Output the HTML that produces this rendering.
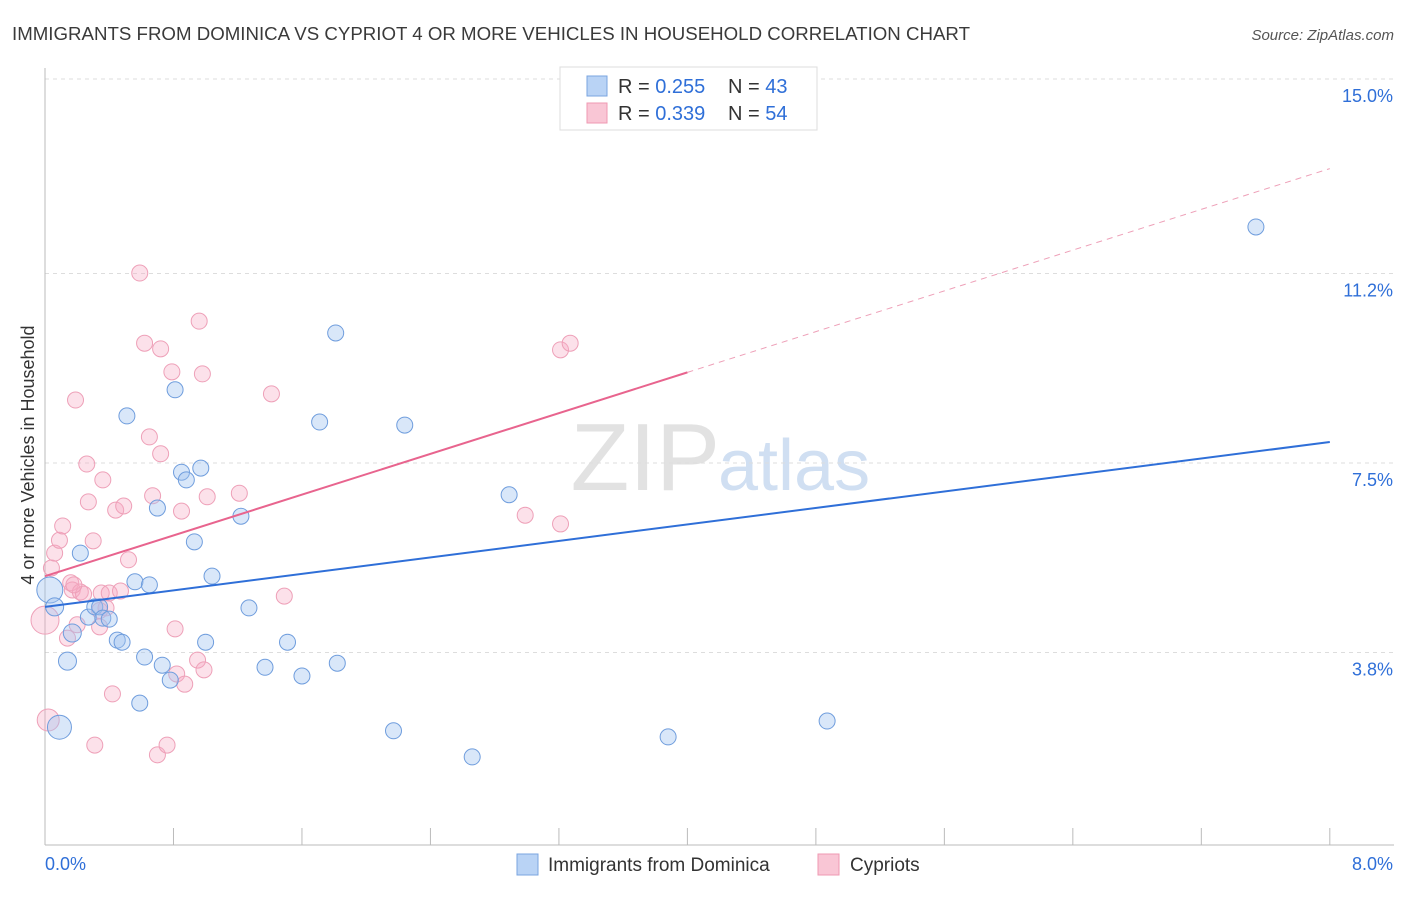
<!DOCTYPE html>
<html><head><meta charset="utf-8"><style>
body{margin:0;background:#fff;font-family:"Liberation Sans",sans-serif}
svg text{font-family:"Liberation Sans",sans-serif}
</style></head><body>
<svg id="c" width="1406" height="892">
<text x="12" y="40" font-size="18" fill="#3a3a3a" textLength="958" lengthAdjust="spacingAndGlyphs">IMMIGRANTS FROM DOMINICA VS CYPRIOT 4 OR MORE VEHICLES IN HOUSEHOLD CORRELATION CHART</text>
<text x="1394" y="40" font-size="15" fill="#555" font-style="italic" text-anchor="end">Source: ZipAtlas.com</text>
<text x="720" y="490" font-size="96" fill="#e2e2e2" text-anchor="end" font-family="Liberation Serif">ZIP</text>
<text x="718" y="490" font-size="72" fill="#d0dff2">atlas</text>
<text transform="translate(34,455) rotate(-90)" font-size="18" fill="#333" text-anchor="middle">4 or more Vehicles in Household</text>
<g id="grid"></g><g id="axes"></g><g id="marks"></g>
<g>
<rect x="560" y="67" width="257" height="63" fill="#fff" stroke="#ddd"/>
<rect x="587" y="76" width="20" height="20" fill="#b9d3f5" stroke="#7aa5e0"/>
<rect x="587" y="103" width="20" height="20" fill="#f9c6d5" stroke="#ef98b2"/>
<text x="618" y="93" font-size="20" fill="#333">R = <tspan fill="#2f6fd8">0.255</tspan></text>
<text x="728" y="93" font-size="20" fill="#333">N = <tspan fill="#2f6fd8">43</tspan></text>
<text x="618" y="120" font-size="20" fill="#333">R = <tspan fill="#2f6fd8">0.339</tspan></text>
<text x="728" y="120" font-size="20" fill="#333">N = <tspan fill="#2f6fd8">54</tspan></text>
</g>
<rect x="517" y="854" width="21" height="21" fill="#b9d3f5" stroke="#7aa5e0"/>
<text x="548" y="871" font-size="19" fill="#333">Immigrants from Dominica</text>
<rect x="818" y="854" width="21" height="21" fill="#f9c6d5" stroke="#ef98b2"/>
<text x="850" y="871" font-size="19" fill="#333">Cypriots</text>
</svg>
<script>
const yTicks=[3.8,7.5,11.2,15.0];
const yTickLabels=["3.8%","7.5%","11.2%","15.0%"];
const xTickLabels=["0.0%","8.0%"];
const blueX=[0.03,0.06,0.09,0.14,0.17,0.22,0.27,0.31,0.34,0.36,0.40,0.45,0.48,0.51,0.56,0.59,0.62,0.65,0.70,0.73,0.78,0.81,0.85,0.88,0.93,0.97,1.00,1.04,1.22,1.27,1.37,1.51,1.60,1.71,1.81,1.82,2.17,2.24,2.66,2.89,3.88,4.87,7.54];
const blueY=[5.02,4.69,2.34,3.63,4.18,5.74,4.49,4.69,4.69,4.47,4.45,4.04,4.00,8.42,5.18,2.81,3.71,5.12,6.62,3.55,3.26,8.93,7.32,7.17,5.96,7.40,4.00,5.29,6.46,4.67,3.51,4.00,3.34,8.30,10.04,3.59,2.27,8.24,1.76,6.88,2.15,2.46,12.11];
const blueS=[13,9,12,9,9,8,8,8,8,8,8,8,8,8,8,8,8,8,8,8,8,8,8,8,8,8,8,8,8,8,8,8,8,8,8,8,8,8,8,8,8,8,8];
const pinkX=[0.0,0.02,0.04,0.06,0.09,0.11,0.14,0.16,0.17,0.19,0.20,0.22,0.24,0.26,0.27,0.30,0.31,0.34,0.35,0.36,0.38,0.40,0.42,0.44,0.47,0.49,0.52,0.59,0.62,0.65,0.67,0.70,0.72,0.72,0.76,0.79,0.81,0.82,0.85,0.87,0.95,0.96,0.98,0.99,1.01,1.21,1.41,1.49,2.99,3.21,3.21,3.27,0.34,0.18];
const pinkY=[4.43,2.48,5.45,5.74,5.99,6.27,4.08,5.16,5.02,8.73,4.34,4.98,4.94,7.48,6.74,5.98,1.99,4.30,4.96,7.17,4.67,4.96,2.99,6.58,5.00,6.66,5.61,11.21,9.84,8.01,6.86,1.80,9.73,7.68,1.99,9.28,4.26,3.38,6.56,3.18,3.65,10.27,9.24,3.46,6.84,6.91,8.85,4.90,6.48,6.31,9.71,9.84,4.62,5.12];
const pinkS=[14,11,8,8,8,8,8,8,8,8,8,8,8,8,8,8,8,8,8,8,8,8,8,8,8,8,8,8,8,8,8,8,8,8,8,8,8,8,8,8,8,8,8,8,8,8,8,8,8,8,8,8,8,8];
const blueLine=[4.69,7.91];
const pinkLine=[5.29,13.25];
const X=v=>45+v*160.6, Y=v=>847-v*51.2;
const NS="http://www.w3.org/2000/svg";
function mk(p,t,a){const e=document.createElementNS(NS,t);for(const k in a)e.setAttribute(k,a[k]);p.appendChild(e);return e;}
const g=document.getElementById('grid'),ax=document.getElementById('axes'),m=document.getElementById('marks');
yTicks.forEach((t,i)=>{
 const l=mk(g,'line',{x1:45,x2:1394,y1:Y(t),y2:Y(t),stroke:'#ddd','stroke-dasharray':'4,4'});
 
 
 const tx=mk(ax,'text',{x:1393,y:Y(t)+23,'font-size':18,fill:'#2f6fd8','text-anchor':'end'});tx.textContent=yTickLabels[i];
 
 
});
mk(ax,'line',{x1:45,x2:45,y1:68,y2:845,stroke:'#bbb'});
const xa=mk(ax,'line',{x1:45,x2:1394,y1:845,y2:845,stroke:'#bbb'});


for(let i=1;i<=10;i++){mk(ax,'line',{x1:X(i*0.8),x2:X(i*0.8),y1:828,y2:845,stroke:'#bbb'});}
const x0=mk(ax,'text',{x:45,y:870,'font-size':18,fill:'#2f6fd8'});x0.textContent=xTickLabels[0];


const x1=mk(ax,'text',{x:1393,y:870,'font-size':18,fill:'#2f6fd8','text-anchor':'end'});x1.textContent=xTickLabels[1];


pinkX.forEach((v,i)=>{const c=mk(m,'circle',{cx:X(v),cy:Y(pinkY[i]),r:pinkS[i],fill:'rgba(246,170,195,0.35)',stroke:'#eea0b8','stroke-width':1});
 
 });
blueX.forEach((v,i)=>{const c=mk(m,'circle',{cx:X(v),cy:Y(blueY[i]),r:blueS[i],fill:'rgba(160,195,240,0.4)',stroke:'#6f9ddd','stroke-width':1});
 
 });
const bl=mk(m,'line',{x1:X(0),y1:Y(blueLine[0]),x2:X(8),y2:Y(blueLine[1]),stroke:'#2f6fd8','stroke-width':2});


const pm=pinkLine[0]+(pinkLine[1]-pinkLine[0])*0.5;
const pl=mk(m,'line',{x1:X(0),y1:Y(pinkLine[0]),x2:X(4),y2:Y(pm),stroke:'#e8648e','stroke-width':2});


const pd=mk(m,'line',{x1:X(4),y1:Y(pm),x2:X(8),y2:Y(pinkLine[1]),stroke:'#eea0b8','stroke-width':1,'stroke-dasharray':'6,5'});


</script>
</body></html>
